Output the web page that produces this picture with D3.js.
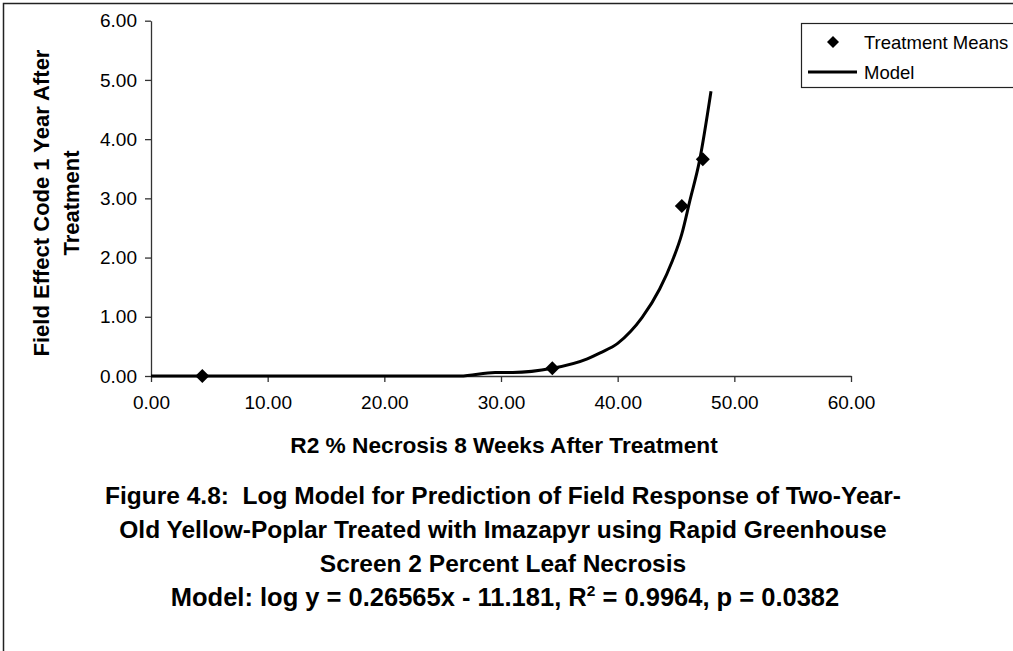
<!DOCTYPE html>
<html><head><meta charset="utf-8">
<script src="https://cdn.jsdelivr.net/npm/d3@7"></script>
<style>
html,body{margin:0;padding:0;background:#fff;}
text{font-family:"Liberation Sans",Arial,sans-serif;fill:#000;white-space:pre;}
</style></head>
<body>
<svg id="chart" width="1013" height="651"></svg>
<script>
// ---- data ----
const xTicks = [0, 10, 20, 30, 40, 50, 60];
const yTicks = [0, 1, 2, 3, 4, 5, 6];
const meansX = [4.4, 34.4, 45.5, 47.3];
const meansY = [0.0, 0.13, 2.87, 3.66];
const modelX = [0, 26.5, 29.5, 31.0, 34.4, 37.4, 38.5, 40.0, 41.1, 42.1, 43.6, 44.7, 45.5, 46.2, 47.0, 48.0];
const modelY = [0, 0.0, 0.06, 0.06, 0.13, 0.29, 0.39, 0.55, 0.75, 0.99, 1.47, 1.95, 2.40, 2.97, 3.62, 4.81];
const xTitle = "R2 % Necrosis 8 Weeks After Treatment";
const yTitle1 = "Field Effect Code 1 Year After";
const yTitle2 = "Treatment";
const legendLabels = ["Treatment Means", "Model"];
const captionLines = [
  "Figure 4.8:  Log Model for Prediction of Field Response of Two-Year-",
  "Old Yellow-Poplar Treated with Imazapyr using Rapid Greenhouse",
  "Screen 2 Percent Leaf Necrosis"
];

const svg = d3.select("#chart");
// outer border
svg.append("rect").attr("x", 3.5).attr("y", 3.5).attr("width", 1100).attr("height", 800)
  .attr("fill", "none").attr("stroke", "#222").attr("stroke-width", 1.5);

const x = d3.scaleLinear().domain([0, 60]).range([151, 851]);
const y = d3.scaleLinear().domain([0, 6]).range([376, 20.7]);
const fmt = d3.format(".2f");

// axes
const gx = svg.append("g").attr("transform", `translate(0,${y(0)})`)
  .call(d3.axisBottom(x).tickValues(xTicks).tickFormat(fmt).tickSize(6).tickSizeOuter(0).tickPadding(14));
const gy = svg.append("g").attr("transform", `translate(${x(0)},0)`)
  .call(d3.axisLeft(y).tickValues(yTicks).tickFormat(fmt).tickSize(6).tickSizeOuter(0).tickPadding(8));
[gx, gy].forEach(g => {
  g.select(".domain").attr("stroke", "#333").attr("stroke-width", 1.3);
  g.selectAll(".tick line").attr("stroke", "#333").attr("stroke-width", 1.3);
  g.selectAll("text").attr("font-family", "Liberation Sans, Arial, sans-serif").attr("fill", "#000").attr("font-size", 19);
});

// model line
const pts = modelX.map((v, i) => [v, modelY[i]]);
svg.append("path").datum(pts)
  .attr("d", d3.line().x(d => x(d[0])).y(d => y(d[1])).curve(d3.curveMonotoneX))
  .attr("fill", "none").attr("stroke", "#000").attr("stroke-width", 3).attr("stroke-linejoin", "round");

// means
const diamond = "M0,-7L7,0L0,7L-7,0Z";
svg.selectAll(".mean").data(meansX.map((v, i) => [v, meansY[i]])).enter()
  .append("path").attr("class", "mean").attr("d", diamond)
  .attr("transform", d => `translate(${x(d[0])},${y(d[1])})`).attr("fill", "#000");

// axis titles
svg.append("text").attr("x", 504).attr("y", 453).attr("text-anchor", "middle")
  .attr("font-size", 22.7).attr("font-weight", "bold").text(xTitle);
svg.append("text").attr("transform", "translate(49,203) rotate(-90)").attr("text-anchor", "middle")
  .attr("font-size", 22).attr("font-weight", "bold").text(yTitle1);
svg.append("text").attr("transform", "translate(79,203) rotate(-90)").attr("text-anchor", "middle")
  .attr("font-size", 22).attr("font-weight", "bold").text(yTitle2);

// legend
const lg = svg.append("g");
lg.append("rect").attr("x", 801.5).attr("y", 23.5).attr("width", 300).attr("height", 64)
  .attr("fill", "#fff").attr("stroke", "#222").attr("stroke-width", 1.2);
lg.append("path").attr("d", "M0,-6L6,0L0,6L-6,0Z").attr("transform", "translate(833,42)").attr("fill", "#000");
lg.append("line").attr("x1", 808).attr("x2", 857).attr("y1", 72).attr("y2", 72).attr("stroke", "#000").attr("stroke-width", 3);
lg.append("text").attr("x", 864).attr("y", 49).attr("font-size", 18.5).text(legendLabels[0]);
lg.append("text").attr("x", 864).attr("y", 79).attr("font-size", 18.5).text(legendLabels[1]);

// caption
captionLines.forEach((t, i) => {
  svg.append("text").attr("x", 503).attr("y", 504 + i * 34).attr("text-anchor", "middle")
    .attr("font-size", 24.5).attr("font-weight", "bold").text(t);
});
const m = svg.append("text").attr("x", 505).attr("y", 606).attr("text-anchor", "middle")
  .attr("font-size", 25.5).attr("font-weight", "bold");
m.append("tspan").text("Model: log y = 0.26565x - 11.181, R");
m.append("tspan").attr("font-size", 15.5).attr("dy", -10).text("2");
m.append("tspan").attr("dy", 10).text(" = 0.9964, p = 0.0382");
</script>
</body></html>
